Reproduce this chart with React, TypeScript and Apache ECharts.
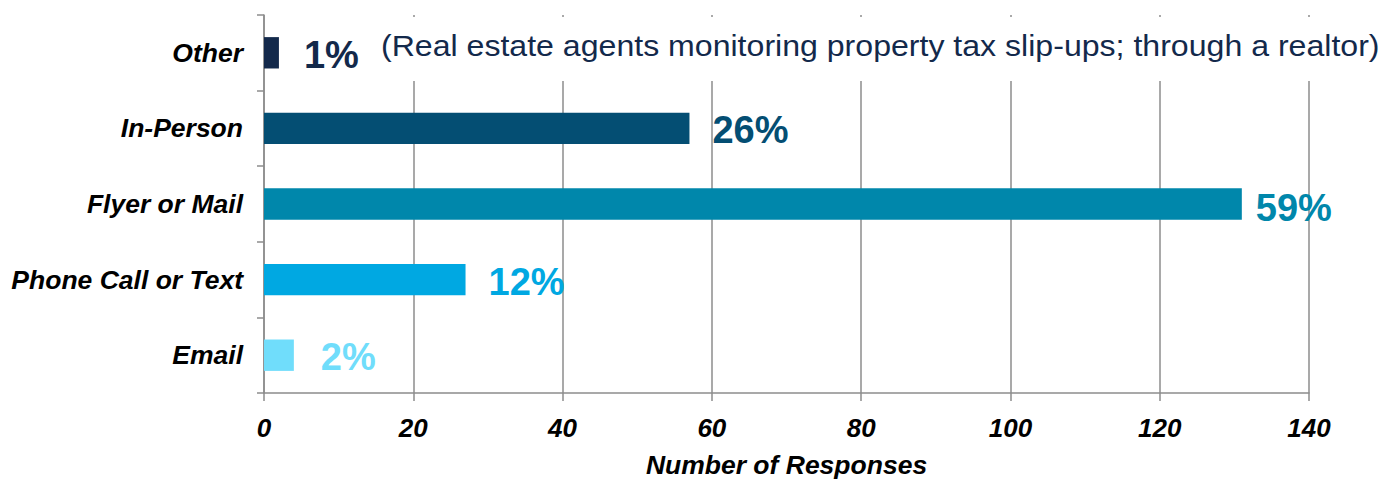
import React, { useEffect, useRef } from "react";
import * as echarts from "echarts";

const categories = ["Other", "In-Person", "Flyer or Mail", "Phone Call or Text", "Email"];
const responses = [2, 57, 131, 27, 4];
const shareLabels = ["1%", "26%", "59%", "12%", "2%"];
const barColors = ["#13294b", "#044e73", "#0087ab", "#00a8e2", "#70ddfb"];
const labelDistances = [25, 23, 14, 23, 27];
const xMin = 0;
const xMax = 140;
const xStep = 20;
const xAxisTitle = "Number of Responses";
const otherNote = "(Real estate agents monitoring property tax slip-ups; through a realtor)";

const FONT = "'Liberation Sans', Arial, sans-serif";
const GREY = "#8c8c8c";

export default function App() {
  const ref = useRef<HTMLDivElement>(null);
  useEffect(() => {
    if (!ref.current) return;
    const chart = echarts.init(ref.current, undefined, { renderer: "svg" });
    chart.setOption({
      animation: false,
      backgroundColor: "#ffffff",
      grid: { left: 264, right: 83, top: 15, bottom: 84, containLabel: false },
      xAxis: {
        type: "value",
        min: xMin,
        max: xMax,
        interval: xStep,
        name: xAxisTitle,
        nameLocation: "middle",
        nameGap: 58,
        nameTextStyle: { fontFamily: FONT, fontSize: 26.5, fontWeight: "bold", fontStyle: "italic", color: "#000" },
        axisLine: { show: true, lineStyle: { color: GREY, width: 1.5 } },
        axisTick: { show: true, length: 8, lineStyle: { color: GREY, width: 1.5 } },
        axisLabel: { margin: 22, fontFamily: FONT, fontSize: 26, fontWeight: "bold", fontStyle: "italic", color: "#000" },
        splitLine: { show: true, lineStyle: { color: GREY, width: 1.5 } },
      },
      yAxis: {
        type: "category",
        inverse: true,
        data: categories,
        axisLine: { show: true, lineStyle: { color: GREY, width: 1.5 } },
        axisTick: { show: true, length: 7, alignWithLabel: false, lineStyle: { color: GREY, width: 1.5 } },
        axisLabel: { margin: 21, fontFamily: FONT, fontSize: 26.5, fontWeight: "bold", fontStyle: "italic", color: "#000" },
        splitLine: { show: false },
      },
      series: [
        {
          type: "bar",
          barWidth: "41.5%",
          z: 5,
          data: responses.map((v, i) => ({
            value: v,
            itemStyle: { color: barColors[i] },
            label: {
              show: true,
              position: "right",
              distance: labelDistances[i],
              formatter: shareLabels[i],
              color: barColors[i],
              fontFamily: FONT,
              fontSize: 38,
              fontWeight: "bold",
              offset: i === 2 ? [0, 4] : [0, 2],
            },
          })),
        },
      ],
      graphic: [
        {
          type: "group",
          z: 100,
          children: [
            { type: "rect", shape: { x: 370, y: 17, width: 1018, height: 64 }, style: { fill: "#ffffff" }, z: 100 },
            {
              type: "text",
              x: 381,
              y: 46,
              scaleX: 1.07,
              z: 101,
              style: {
                text: otherNote,
                fontFamily: FONT,
                fontSize: 30,
                fill: "#13294b",
                verticalAlign: "middle",
                align: "left",
              },
            },
          ],
        },
      ],
    });
    return () => chart.dispose();
  }, []);
  return <div ref={ref} style={{ position: "fixed", left: 0, top: 0, width: 1392, height: 483 }} />;
}
